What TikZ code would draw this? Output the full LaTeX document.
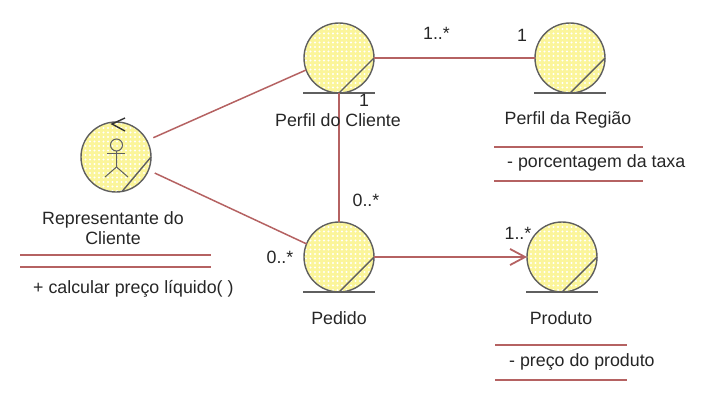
\documentclass[tikz,border=0pt]{standalone}
\usepackage{fontspec}
\setmainfont{Liberation Sans}
\usetikzlibrary{patterns.meta, arrows.meta}
\definecolor{linkred}{HTML}{B56262}
\definecolor{classyellow}{HTML}{FBF59A}
\definecolor{outlinegray}{HTML}{5F5F5F}
\tikzset{
  classdot/.style={circle, draw=outlinegray, line width=1.4pt, minimum size=70pt, inner sep=0pt, outer sep=0pt,
      preaction={fill=classyellow}, pattern={Dots[distance=4.5pt, radius=1.1pt]}, pattern color=white},
  link/.style={draw=linkred, line width=1.5pt},
  rule/.style={draw=linkred, line width=1.5pt},
  outline/.style={draw=outlinegray, line width=1.4pt},
  label/.style={inner sep=0pt, text=black!85, font=\fontsize{17.8}{20.5}\selectfont},
}

\begin{document}
\begin{tikzpicture}[x=1pt, y=-1pt]
  \useasboundingbox (0,0) rectangle (704,416);
  % classes
  \node[classdot] (actor) at (116,157) {};
  \node[classdot] (perfilCliente) at (339,58) {};
  \node[classdot] (perfilRegiao) at (570,58) {};
  \node[classdot] (pedido) at (339,257) {};
  \node[classdot] (produto) at (562,257) {};
  % ground line and corner slash
  \foreach \n in {perfilCliente, perfilRegiao, pedido, produto} {
    \draw[outline] (\n.south) ++(-36,0) -- ++(72,0);
    \draw[outline] (\n.south) -- (\n.east);
  }
  \draw[outline] (actor.-80) -- (actor.east);
  % stick figure
  \draw[outlinegray, line width=1pt] (116.5,145) circle (6);
  \draw[outlinegray, line width=1pt] (116.5,151) -- (116.5,167) -- (105,177);
  \draw[outlinegray, line width=1pt] (116.5,167) -- (128,177);
  \draw[outlinegray, line width=1pt] (107,153.5) -- (125,153.5);
  % arrow on top of the actor
  \draw[black!80, line width=1.4pt] (125,118) -- (112,124) -- (125,131);
  % links
  \draw[link, shorten <=7pt] (actor.28) -- (perfilCliente.200);
  \draw[link, shorten <=7pt] (actor.-22) -- (pedido.158);
  \draw[link] (perfilCliente.east) -- (perfilRegiao.west);
  \draw[link] (perfilCliente.south) -- (pedido.north);
  \draw[link, line width=1.8pt, -{Straight Barb[length=15pt, width=16pt, line width=1.8pt]}] (pedido.east) -- (produto.west);
  % class names
  \node[label] (nameCliente) at (338,120) {Perfil do Cliente};
  \node[label] (nameRegiao) at (568,120) {Perfil da Região};
  \node[label, align=center] (nameActor) at (113,228) {Representante do\\Cliente};
  \node[label] (namePedido) at (339,318) {Pedido};
  \node[label] (nameProduto) at (561,318) {Produto};
  % compartments
  \draw[rule] (20,255) -- (211,255);
  \draw[rule] (20,267) -- (211,267);
  \node[label, anchor=west] (opActor) at (33,288.5) {+ calcular preço líquido( )};
  \draw[rule] (494,147) -- (643,147);
  \draw[rule] (494,181) -- (643,181);
  \node[label, anchor=west] (attrRegiao) at (507,163) {- porcentagem da taxa};
  \draw[rule] (495,345) -- (627,345);
  \draw[rule] (495,380) -- (627,380);
  \node[label, anchor=west] (attrProduto) at (509,361.5) {- preço do produto};
  % multiplicities
  \node[label] (multA) at (436.5,33) {1..*};
  \node[label] (multB) at (522,35) {1};
  \node[label] (multC) at (364,100) {1};
  \node[label] (multD) at (366,200) {0..*};
  \node[label] (multE) at (280,257) {0..*};
  \node[label] (multF) at (518,233) {1..*};
\end{tikzpicture}
\end{document}
